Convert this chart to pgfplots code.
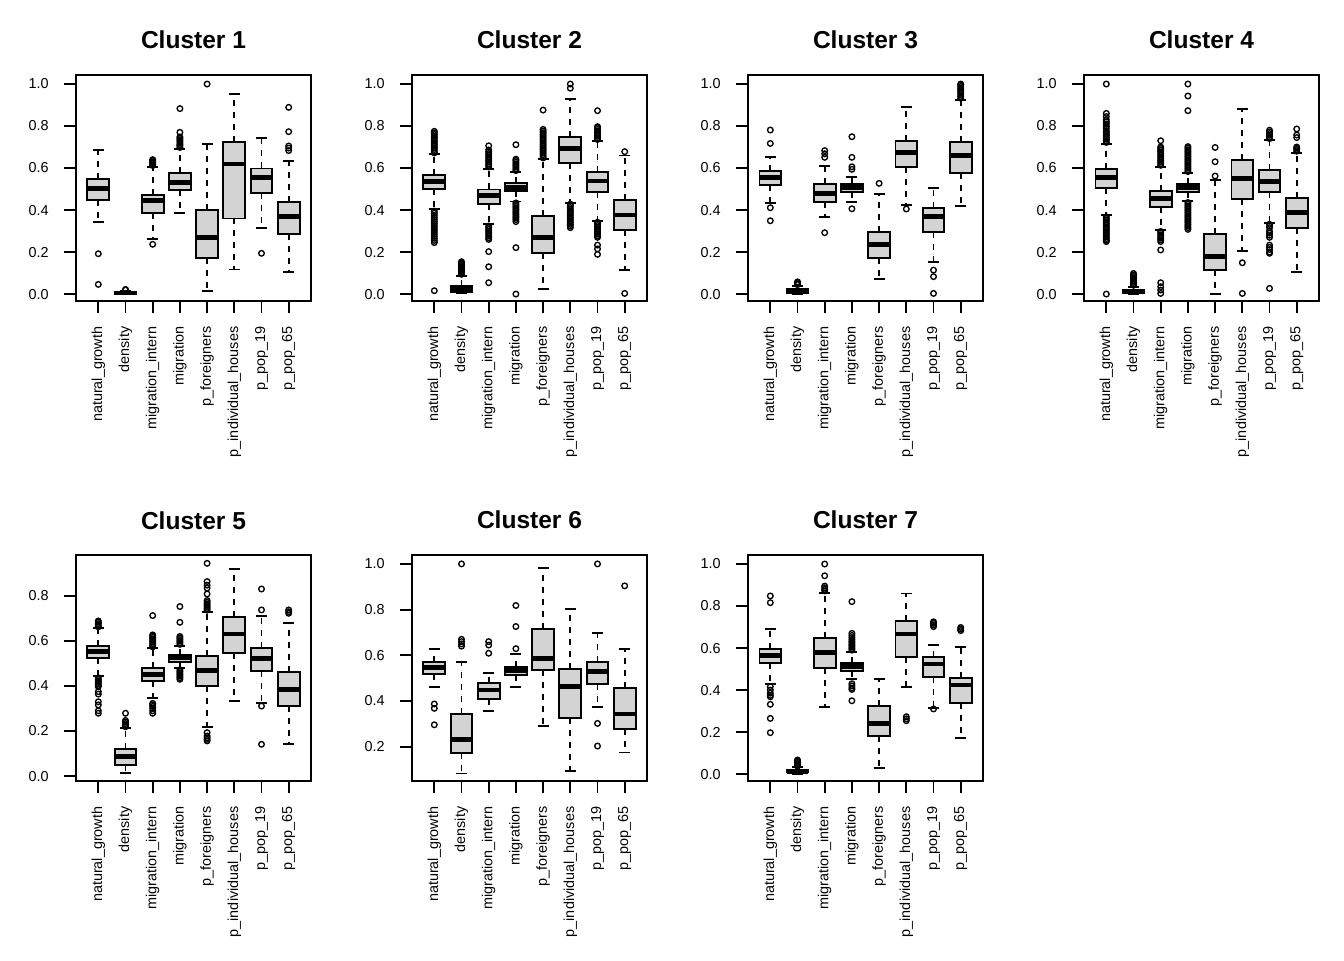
\documentclass[border=0pt]{standalone}
\usepackage{fontspec}
\setmainfont{Liberation Sans}
\usepackage{pgfplots}
\usepgfplotslibrary{statistics}
\pgfplotsset{compat=1.18}
\definecolor{boxgray}{RGB}{211,211,211}
\pgfplotsset{
  panel/.style={
    scale only axis, width=176.25pt, height=169.5pt,
    anchor=south west,
    xmin=0.18, xmax=8.82,
    xtick={1,2,3,4,5,6,7,8},
    xticklabels={natural\_growth,density,migration\_intern,migration,p\_foreigners,p\_individual\_houses,p\_pop\_19,p\_pop\_65},
    tick pos=left, tick align=outside, major tick length=9pt,
    tick style={line width=1.4pt, black},
    axis line style={line width=1.4pt},
    x tick label style={rotate=90, anchor=east, xshift=-6.75pt, font=\fontsize{10.8}{13}\selectfont},
    y tick label style={anchor=east, xshift=-8pt, font=\fontsize{10.8}{13}\selectfont,
      /pgf/number format/.cd, fixed, fixed zerofill, precision=1, assume math mode=true},
    every axis title/.style={at={(0.5,1)}, anchor=base, yshift=19.5pt, font=\bfseries\fontsize{18.4}{22}\selectfont},
  },
  rbox/.style={
    black, line width=1.4pt, mark=o, mark size=2.1pt, mark options={solid, line width=1.0pt},
    boxplot/draw direction=y,
    boxplot/box extend=0.8, boxplot/whisker extend=0.4,
    boxplot/every box/.style={fill=boxgray, draw=black, line width=1.4pt},
    boxplot/every median/.style={line width=3.6pt},
    boxplot/draw/lower whisker/.code={%
      \draw[line width=1.4pt, dash pattern=on 4.5pt off 4.5pt] (boxplot box cs:\pgfplotsboxplotvalue{lower quartile},0.5) -- (boxplot box cs:\pgfplotsboxplotvalue{lower whisker},0.5);
      \draw[line width=1.4pt] (boxplot whisker cs:\pgfplotsboxplotvalue{lower whisker},0) -- (boxplot whisker cs:\pgfplotsboxplotvalue{lower whisker},1);
    },
    boxplot/draw/upper whisker/.code={%
      \draw[line width=1.4pt, dash pattern=on 4.5pt off 4.5pt] (boxplot box cs:\pgfplotsboxplotvalue{upper quartile},0.5) -- (boxplot box cs:\pgfplotsboxplotvalue{upper whisker},0.5);
      \draw[line width=1.4pt] (boxplot whisker cs:\pgfplotsboxplotvalue{upper whisker},0) -- (boxplot whisker cs:\pgfplotsboxplotvalue{upper whisker},1);
    },
  },
}
\newcommand{\rbp}[7]{\addplot[rbox, boxplot prepared={draw direction=y, draw position=#1, lower whisker=#2, lower quartile=#3, median=#4, upper quartile=#5, upper whisker=#6}] coordinates {#7};}
\begin{document}
\begin{tikzpicture}
\path[use as bounding box] (0,0) rectangle (1008pt,720pt);
% Cluster 1
\begin{axis}[panel, at={(57pt,494.25pt)}, title={Cluster 1}, ymin=-0.033, ymax=1.043, ytick={0,0.2,0.4,0.6,0.8,1}]
\rbp{1}{0.343}{0.449}{0.503}{0.549}{0.686}{(0,0.192)(0,0.046)}
\rbp{2}{0.000}{0.002}{0.005}{0.009}{0.016}{(0,0.019)(0,0.022)}
\rbp{3}{0.263}{0.384}{0.444}{0.473}{0.606}{(0,0.612)(0,0.618)(0,0.624)(0,0.630)(0,0.636)(0,0.640)(0,0.237)}
\rbp{4}{0.386}{0.494}{0.532}{0.576}{0.690}{(0,0.698)(0,0.705)(0,0.712)(0,0.720)(0,0.728)(0,0.735)(0,0.742)(0,0.748)(0,0.770)(0,0.883)}
\rbp{5}{0.016}{0.170}{0.270}{0.400}{0.714}{(0,1.0)}
\rbp{6}{0.117}{0.360}{0.619}{0.725}{0.952}{}
\rbp{7}{0.316}{0.481}{0.554}{0.598}{0.743}{(0,0.194)}
\rbp{8}{0.105}{0.286}{0.368}{0.438}{0.632}{(0,0.683)(0,0.695)(0,0.705)(0,0.773)(0,0.889)}
\end{axis}
% Cluster 2
\begin{axis}[panel, at={(309pt,494.25pt)}, title={Cluster 2}, ymin=-0.033, ymax=1.043, ytick={0,0.2,0.4,0.6,0.8,1}]
\rbp{1}{0.403}{0.500}{0.535}{0.568}{0.665}{(0,0.672)(0,0.680)(0,0.688)(0,0.696)(0,0.704)(0,0.712)(0,0.720)(0,0.728)(0,0.736)(0,0.744)(0,0.752)(0,0.760)(0,0.768)(0,0.775)(0,0.395)(0,0.385)(0,0.375)(0,0.365)(0,0.355)(0,0.345)(0,0.335)(0,0.325)(0,0.315)(0,0.305)(0,0.295)(0,0.285)(0,0.275)(0,0.265)(0,0.255)(0,0.245)(0,0.016)}
\rbp{2}{0.003}{0.011}{0.027}{0.038}{0.087}{(0,0.094)(0,0.100)(0,0.106)(0,0.112)(0,0.118)(0,0.124)(0,0.130)(0,0.136)(0,0.142)(0,0.148)(0,0.154)}
\rbp{3}{0.332}{0.427}{0.468}{0.498}{0.597}{(0,0.605)(0,0.613)(0,0.621)(0,0.629)(0,0.637)(0,0.645)(0,0.653)(0,0.661)(0,0.669)(0,0.677)(0,0.686)(0,0.706)(0,0.324)(0,0.316)(0,0.308)(0,0.300)(0,0.292)(0,0.284)(0,0.276)(0,0.268)(0,0.260)(0,0.202)(0,0.130)(0,0.054)}
\rbp{4}{0.441}{0.489}{0.508}{0.530}{0.581}{(0,0.588)(0,0.596)(0,0.604)(0,0.612)(0,0.620)(0,0.628)(0,0.636)(0,0.642)(0,0.711)(0,0.434)(0,0.426)(0,0.418)(0,0.410)(0,0.402)(0,0.394)(0,0.386)(0,0.378)(0,0.370)(0,0.362)(0,0.354)(0,0.345)(0,0.221)(0,0.0)}
\rbp{5}{0.024}{0.194}{0.270}{0.373}{0.641}{(0,0.648)(0,0.656)(0,0.664)(0,0.672)(0,0.680)(0,0.688)(0,0.696)(0,0.704)(0,0.712)(0,0.720)(0,0.728)(0,0.736)(0,0.744)(0,0.752)(0,0.760)(0,0.768)(0,0.776)(0,0.784)(0,0.876)}
\rbp{6}{0.435}{0.622}{0.692}{0.749}{0.929}{(0,0.980)(0,1.0)(0,0.428)(0,0.420)(0,0.412)(0,0.404)(0,0.396)(0,0.388)(0,0.380)(0,0.372)(0,0.364)(0,0.356)(0,0.348)(0,0.340)(0,0.332)(0,0.324)(0,0.316)}
\rbp{7}{0.349}{0.486}{0.538}{0.583}{0.729}{(0,0.736)(0,0.744)(0,0.752)(0,0.760)(0,0.768)(0,0.776)(0,0.784)(0,0.792)(0,0.797)(0,0.873)(0,0.342)(0,0.334)(0,0.326)(0,0.318)(0,0.310)(0,0.302)(0,0.294)(0,0.286)(0,0.278)(0,0.270)(0,0.233)(0,0.215)(0,0.189)}
\rbp{8}{0.114}{0.305}{0.376}{0.448}{0.660}{(0,0.678)(0,0.003)}
\end{axis}
% Cluster 3
\begin{axis}[panel, at={(561pt,494.25pt)}, title={Cluster 3}, ymin=-0.033, ymax=1.043, ytick={0,0.2,0.4,0.6,0.8,1}]
\rbp{1}{0.432}{0.519}{0.556}{0.587}{0.651}{(0,0.717)(0,0.781)(0,0.411)(0,0.349)}
\rbp{2}{0.002}{0.006}{0.017}{0.025}{0.038}{(0,0.045)(0,0.050)(0,0.055)(0,0.058)}
\rbp{3}{0.368}{0.438}{0.479}{0.524}{0.610}{(0,0.651)(0,0.668)(0,0.683)(0,0.292)}
\rbp{4}{0.438}{0.484}{0.508}{0.524}{0.559}{(0,0.594)(0,0.606)(0,0.651)(0,0.749)(0,0.406)}
\rbp{5}{0.073}{0.170}{0.235}{0.295}{0.476}{(0,0.527)}
\rbp{6}{0.424}{0.603}{0.675}{0.730}{0.892}{(0,0.405)}
\rbp{7}{0.152}{0.295}{0.368}{0.411}{0.503}{(0,0.114)(0,0.083)(0,0.003)}
\rbp{8}{0.419}{0.575}{0.659}{0.725}{0.924}{(0,0.932)(0,0.940)(0,0.948)(0,0.956)(0,0.964)(0,0.972)(0,0.980)(0,0.988)(0,0.996)(0,1.0)}
\end{axis}
% Cluster 4
\begin{axis}[panel, at={(813pt,494.25pt)}, title={Cluster 4}, ymin=-0.033, ymax=1.043, ytick={0,0.2,0.4,0.6,0.8,1}]
\rbp{1}{0.376}{0.505}{0.556}{0.594}{0.714}{(0,0.722)(0,0.730)(0,0.738)(0,0.746)(0,0.754)(0,0.762)(0,0.770)(0,0.778)(0,0.790)(0,0.800)(0,0.810)(0,0.820)(0,0.830)(0,0.845)(0,0.860)(0,1.0)(0,0.368)(0,0.360)(0,0.352)(0,0.344)(0,0.336)(0,0.328)(0,0.320)(0,0.312)(0,0.304)(0,0.296)(0,0.288)(0,0.280)(0,0.272)(0,0.264)(0,0.256)(0,0.250)(0,0.0)}
\rbp{2}{0.0}{0.006}{0.014}{0.019}{0.035}{(0,0.042)(0,0.049)(0,0.056)(0,0.063)(0,0.070)(0,0.077)(0,0.084)(0,0.091)(0,0.098)}
\rbp{3}{0.305}{0.416}{0.456}{0.492}{0.606}{(0,0.613)(0,0.621)(0,0.629)(0,0.637)(0,0.645)(0,0.653)(0,0.661)(0,0.669)(0,0.677)(0,0.685)(0,0.693)(0,0.700)(0,0.730)(0,0.298)(0,0.290)(0,0.282)(0,0.274)(0,0.266)(0,0.258)(0,0.250)(0,0.210)(0,0.054)(0,0.035)(0,0.019)(0,0.003)}
\rbp{4}{0.443}{0.487}{0.508}{0.524}{0.575}{(0,0.583)(0,0.591)(0,0.599)(0,0.607)(0,0.615)(0,0.623)(0,0.631)(0,0.639)(0,0.647)(0,0.655)(0,0.663)(0,0.671)(0,0.679)(0,0.687)(0,0.695)(0,0.702)(0,0.873)(0,0.943)(0,1.0)(0,0.436)(0,0.428)(0,0.420)(0,0.412)(0,0.404)(0,0.396)(0,0.388)(0,0.380)(0,0.372)(0,0.364)(0,0.356)(0,0.348)(0,0.340)(0,0.332)(0,0.324)(0,0.316)(0,0.308)}
\rbp{5}{0.0}{0.114}{0.178}{0.286}{0.543}{(0,0.562)(0,0.630)(0,0.698)}
\rbp{6}{0.205}{0.454}{0.551}{0.638}{0.881}{(0,0.149)(0,0.003)}
\rbp{7}{0.340}{0.487}{0.537}{0.590}{0.733}{(0,0.740)(0,0.748)(0,0.756)(0,0.764)(0,0.772)(0,0.780)(0,0.332)(0,0.324)(0,0.316)(0,0.300)(0,0.290)(0,0.280)(0,0.270)(0,0.233)(0,0.222)(0,0.212)(0,0.200)(0,0.194)(0,0.027)}
\rbp{8}{0.103}{0.316}{0.387}{0.459}{0.673}{(0,0.680)(0,0.688)(0,0.695)(0,0.700)(0,0.745)(0,0.757)(0,0.786)}
\end{axis}
% Cluster 5
\begin{axis}[panel, at={(57pt,134.25pt)}, title={Cluster 5}, ymin=-0.022, ymax=0.982, ytick={0,0.2,0.4,0.6,0.8}]
\rbp{1}{0.444}{0.524}{0.553}{0.578}{0.656}{(0,0.663)(0,0.670)(0,0.677)(0,0.684)(0,0.689)(0,0.437)(0,0.430)(0,0.423)(0,0.416)(0,0.409)(0,0.402)(0,0.397)(0,0.375)(0,0.364)(0,0.330)(0,0.316)(0,0.290)(0,0.279)}
\rbp{2}{0.012}{0.049}{0.086}{0.119}{0.212}{(0,0.219)(0,0.226)(0,0.233)(0,0.240)(0,0.247)(0,0.279)}
\rbp{3}{0.348}{0.422}{0.450}{0.481}{0.567}{(0,0.574)(0,0.581)(0,0.588)(0,0.595)(0,0.602)(0,0.609)(0,0.616)(0,0.623)(0,0.627)(0,0.713)(0,0.323)(0,0.316)(0,0.309)(0,0.300)(0,0.290)(0,0.279)}
\rbp{4}{0.479}{0.505}{0.526}{0.538}{0.578}{(0,0.585)(0,0.592)(0,0.599)(0,0.606)(0,0.613)(0,0.620)(0,0.683)(0,0.753)(0,0.472)(0,0.465)(0,0.458)(0,0.451)(0,0.444)(0,0.437)(0,0.430)}
\rbp{5}{0.219}{0.400}{0.468}{0.533}{0.730}{(0,0.737)(0,0.744)(0,0.751)(0,0.758)(0,0.765)(0,0.772)(0,0.780)(0,0.809)(0,0.835)(0,0.848)(0,0.864)(0,0.945)(0,0.193)(0,0.178)(0,0.170)(0,0.163)(0,0.156)}
\rbp{6}{0.333}{0.545}{0.631}{0.708}{0.919}{}
\rbp{7}{0.326}{0.467}{0.523}{0.567}{0.711}{(0,0.738)(0,0.831)(0,0.311)(0,0.141)}
\rbp{8}{0.141}{0.311}{0.385}{0.461}{0.681}{(0,0.723)(0,0.730)(0,0.738)}
\end{axis}
% Cluster 6
\begin{axis}[panel, at={(309pt,134.25pt)}, title={Cluster 6}, ymin=0.050, ymax=1.039, ytick={0.2,0.4,0.6,0.8,1}]
\rbp{1}{0.460}{0.518}{0.547}{0.571}{0.626}{(0,0.387)(0,0.368)(0,0.296)}
\rbp{2}{0.083}{0.171}{0.232}{0.343}{0.571}{(0,0.640)(0,0.650)(0,0.660)(0,0.670)(0,1.0)}
\rbp{3}{0.356}{0.409}{0.448}{0.480}{0.521}{(0,0.609)(0,0.645)(0,0.660)}
\rbp{4}{0.463}{0.512}{0.533}{0.550}{0.606}{(0,0.629)(0,0.726)(0,0.818)}
\rbp{5}{0.292}{0.536}{0.585}{0.715}{0.981}{}
\rbp{6}{0.095}{0.324}{0.463}{0.542}{0.801}{}
\rbp{7}{0.375}{0.473}{0.528}{0.569}{0.696}{(0,1.0)(0,0.302)(0,0.203)}
\rbp{8}{0.175}{0.277}{0.343}{0.458}{0.626}{(0,0.904)}
\end{axis}
% Cluster 7
\begin{axis}[panel, at={(561pt,134.25pt)}, title={Cluster 7}, ymin=-0.033, ymax=1.043, ytick={0,0.2,0.4,0.6,0.8,1}]
\rbp{1}{0.429}{0.530}{0.565}{0.595}{0.689}{(0,0.816)(0,0.848)(0,0.416)(0,0.400)(0,0.385)(0,0.375)(0,0.368)(0,0.332)(0,0.265)(0,0.197)}
\rbp{2}{0.002}{0.008}{0.014}{0.020}{0.032}{(0,0.038)(0,0.044)(0,0.050)(0,0.056)(0,0.062)(0,0.067)}
\rbp{3}{0.321}{0.503}{0.578}{0.646}{0.863}{(0,0.872)(0,0.879)(0,0.887)(0,0.895)(0,0.944)(0,1.0)}
\rbp{4}{0.451}{0.490}{0.511}{0.527}{0.583}{(0,0.590)(0,0.597)(0,0.604)(0,0.611)(0,0.618)(0,0.625)(0,0.632)(0,0.640)(0,0.650)(0,0.660)(0,0.670)(0,0.821)(0,0.430)(0,0.420)(0,0.410)(0,0.403)(0,0.349)}
\rbp{5}{0.027}{0.183}{0.241}{0.325}{0.452}{}
\rbp{6}{0.416}{0.556}{0.667}{0.729}{0.860}{(0,0.254)(0,0.263)(0,0.273)}
\rbp{7}{0.313}{0.463}{0.524}{0.556}{0.614}{(0,0.702)(0,0.710)(0,0.718)(0,0.725)(0,0.310)}
\rbp{8}{0.173}{0.337}{0.424}{0.459}{0.606}{(0,0.683)(0,0.690)(0,0.698)}
\end{axis}
\end{tikzpicture}
\end{document}
